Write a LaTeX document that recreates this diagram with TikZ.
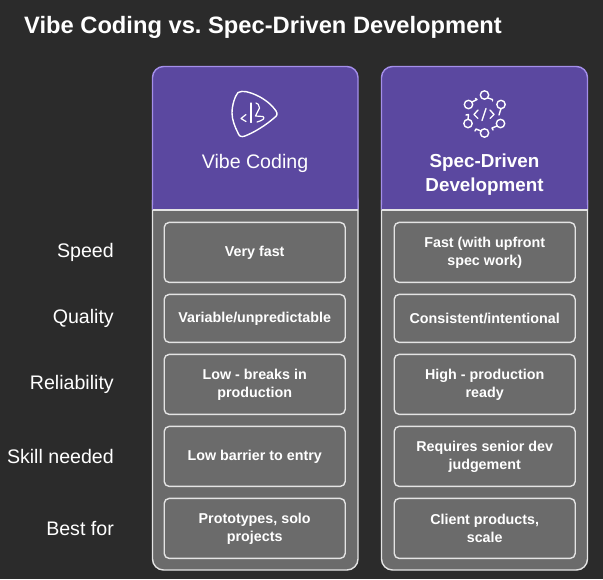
\documentclass[tikz,border=0pt]{standalone}
\usepackage{fontspec}
\setmainfont{Liberation Sans}
\frenchspacing
\definecolor{bgc}{HTML}{2B2B2B}
\definecolor{purp}{HTML}{5B48A0}
\definecolor{lav}{HTML}{A48FEA}
\definecolor{greyc}{HTML}{6B6B6B}
\definecolor{linec}{HTML}{E4E4E4}
\tikzset{
  cellbox/.style={draw=linec,line width=1.4pt,fill=greyc,rounded corners=5pt,minimum width=181pt,align=center,text=white,font=\fontsize{14.3}{18}\selectfont\bfseries,anchor=north west,inner sep=0pt},
  rowlabel/.style={text=white,font=\fontsize{19.6}{24}\selectfont,anchor=east,inner sep=0pt},
  headtext/.style={text=white,align=center,inner sep=0pt,font=\fontsize{19.6}{24}\selectfont},
  iconline/.style={draw=white,line width=1.4pt,line cap=round,line join=round}
}
\begin{document}
\begin{tikzpicture}[x=1pt,y=-1pt]
\useasboundingbox (0,0) rectangle (603,579);
\fill[bgc] (0,0) rectangle (603,579);
\node[anchor=west,text=white,inner sep=0pt,font=\fontsize{23.7}{28}\selectfont\bfseries] (title) at (24,27) {Vibe Coding vs. Spec-Driven Development};
% left column
\draw[linec,line width=1.4pt,fill=greyc,rounded corners=11pt] (152.5,190) -- (152.5,570) -- (358,570) -- (358,190) -- cycle;
\draw[lav,line width=1.4pt,fill=purp,rounded corners=11pt] (152.5,209.5) -- (152.5,66.5) -- (358,66.5) -- (358,209.5);
\fill[purp] (153.2,205) rectangle (357.3,209);
\draw[linec,line width=1.4pt] (152.5,210) -- (358,210);
% right column
\draw[linec,line width=1.4pt,fill=greyc,rounded corners=11pt] (381.5,190) -- (381.5,570) -- (587.5,570) -- (587.5,190) -- cycle;
\draw[lav,line width=1.4pt,fill=purp,rounded corners=11pt] (381.5,209.5) -- (381.5,66.5) -- (587.5,66.5) -- (587.5,209.5);
\fill[purp] (382.2,205) rectangle (586.8,209);
\draw[linec,line width=1.4pt] (381.5,210) -- (587.5,210);
% heads
\node[headtext] (h1) at (255,163) {Vibe Coding};
\node[headtext,font=\fontsize{18.8}{24}\selectfont\bfseries] (h2) at (484.5,175) {Spec-Driven\\Development};
% icon 1
\draw[iconline] (238,92.5) .. controls (243,90) and (249,92) .. (256,95) .. controls (265,99) and (272,105) .. (276,111) .. controls (278,114) and (277,116) .. (274,118) .. controls (266,125) and (255,132) .. (245,136) .. controls (241,137.5) and (239,136) .. (238,133) .. controls (235,127) and (232,120) .. (232,113) .. controls (232,105) and (235,96) .. (238,92.5) -- cycle;
\draw[iconline,line width=1.2pt] (246,114.5) -- (241,118.5) -- (246,121.5);
\draw[iconline,line width=1.2pt] (251,103) -- (251,122.5);
\draw[iconline,line width=1.2pt] (256,103) .. controls (258,103) and (259,105) .. (259.5,108) -- (255.5,116) -- (263,116.5) .. controls (265,118) and (264,120) .. (257,122);
% icon 2
\foreach \cx/\cy in {484.5/95, 501/104.5, 500.5/123.5, 484.5/133, 468/123.5, 468.5/104.5}{\draw[iconline] (\cx,\cy) circle (4.2);}
\draw[iconline] (488,98) -- (492.5,99.5) -- (492.5,101);
\draw[iconline] (501,108.5) -- (499,115);
\draw[iconline] (497,126) -- (492,128) -- (493,130);
\draw[iconline] (481,131) -- (476,129) -- (475,131);
\draw[iconline] (468,119.5) -- (468.5,114.5) -- (466,115);
\draw[iconline] (472,102) -- (477,99.5) -- (475.5,98.5);
\draw[iconline] (478,110) -- (474,114.5) -- (478,118.5);
\draw[iconline] (490,110) -- (494,114.5) -- (490,118.5);
\draw[iconline] (486,108.5) -- (482,120.5);
% rows left
\node[cellbox,minimum height=60pt] (l1) at (163.5,221.7) {Very fast};
\node[cellbox,minimum height=48pt] (l2) at (163.5,293.7) {Variable/unpredictable};
\node[cellbox,minimum height=60pt] (l3) at (163.5,353.7) {Low - breaks in\\production};
\node[cellbox,minimum height=60pt] (l4) at (163.5,425.7) {Low barrier to entry};
\node[cellbox,minimum height=60pt] (l5) at (163.5,497.7) {Prototypes, solo\\projects};
% rows right
\node[cellbox,minimum height=60pt] (r1) at (393.5,221.7) {Fast (with upfront\\spec work)};
\node[cellbox,minimum height=48pt] (r2) at (393.5,293.7) {Consistent/intentional};
\node[cellbox,minimum height=60pt] (r3) at (393.5,353.7) {High - production\\ready};
\node[cellbox,minimum height=60pt] (r4) at (393.5,425.7) {Requires senior dev\\judgement};
\node[cellbox,minimum height=60pt] (r5) at (393.5,497.7) {Client products,\\scale};
% labels
\node[rowlabel] (s1) at (114,252.5) {Speed};
\node[rowlabel] (s2) at (114,318.5) {Quality};
\node[rowlabel] (s3) at (114,384.5) {Reliability};
\node[rowlabel] (s4) at (114,456.5) {Skill needed};
\node[rowlabel] (s5) at (114,528.5) {Best for};
\end{tikzpicture}
\end{document}
